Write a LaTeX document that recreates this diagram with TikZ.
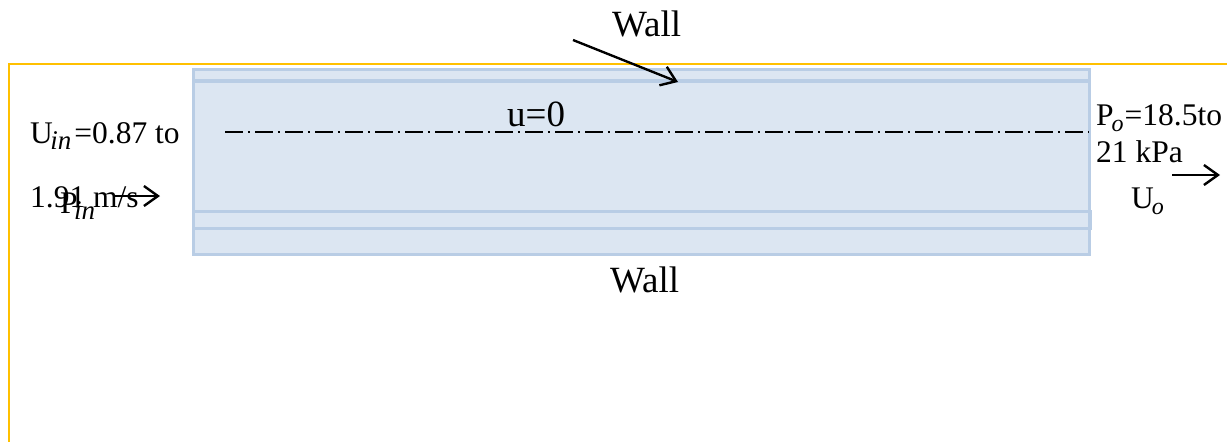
\documentclass[tikz,border=0pt]{standalone}
\usepackage{fontspec}
\setmainfont{Liberation Serif}
\usetikzlibrary{arrows.meta}
\definecolor{frameyellow}{HTML}{FFC000}
\definecolor{wallline}{HTML}{B9CDE5}
\definecolor{wallfill}{HTML}{DCE6F2}
\newcommand{\sbsc}[2]{\kern#1\raisebox{-6pt}{\fontsize{27}{27}\selectfont\itshape #2}}
\newcommand{\sbso}[2]{\kern#1\raisebox{-6pt}{\fontsize{24}{24}\selectfont\itshape #2}}
\tikzset{
  x=1pt,y=-1pt,
  framepath/.style={draw=frameyellow,line width=2.4pt},
  wallbox/.style={draw=wallline,fill=wallfill,line width=3pt},
  wallstrip/.style={draw=wallline,line width=4.5pt},
  flowarrow/.style={draw=black,line width=2.4pt,-{Straight Barb[length=14pt,width=20pt,line width=2.4pt]}},
  big/.style={anchor=base west,inner sep=0pt,font=\fontsize{37}{37}\selectfont},
  small/.style={anchor=base west,inner sep=0pt,font=\fontsize{31.5}{31.5}\selectfont},
  centerline/.style={draw=black,line width=1.8pt,dash pattern=on 17.5pt off 5.25pt on 2pt off 5.25pt}
}
\begin{document}
\begin{tikzpicture}
\useasboundingbox (0,0) rectangle (1227,442);
% yellow frame
\draw[framepath] (1227,64) -- (9,64) -- (9,442);
% channel
\draw[wallbox] (193.5,69.5) rectangle (1089,254);
\draw[wallstrip] (193,81) -- (1089,81);
\draw[draw=wallline,line width=3pt] (193,211.5) rectangle (1090,228);
% centre line
\coordinate (cl1) at (225,132);
\coordinate (cl2) at (1088,132);
\draw[centerline] (cl1) -- (cl2);
% labels
\node[big] (walltop) at (612,36) {Wall};
\node[big] (wallbot) at (610,292) {Wall};
\node[big] (u0) at (507,126.5) {u=0};
\node[small] (uin) at (30,143) {U\sbsc{-2.5pt}{in}\kern3pt=0.87 to};
\node[small] (v191) at (30,207) {1.91 m/s};
\node[small] (pin) at (60,213) {P\sbsc{-3.5pt}{in}};
\node[small] (po) at (1096,125) {P\sbso{-2pt}{o}\kern1pt=18.5to};
\node[small] (kpa) at (1096,162) {21 kPa};
\node[small] (uo) at (1131,208) {U\sbso{-2pt}{o}};
% arrows
\coordinate (a1s) at (573,40);
\coordinate (a1e) at (678,82);
\coordinate (a2s) at (113,196);
\coordinate (a2e) at (160,196);
\coordinate (a3s) at (1172,175);
\coordinate (a3e) at (1220,175);
\draw[flowarrow] (a1s) -- (a1e);
\draw[flowarrow] (a2s) -- (a2e);
\draw[flowarrow] (a3s) -- (a3e);
\end{tikzpicture}
\end{document}
